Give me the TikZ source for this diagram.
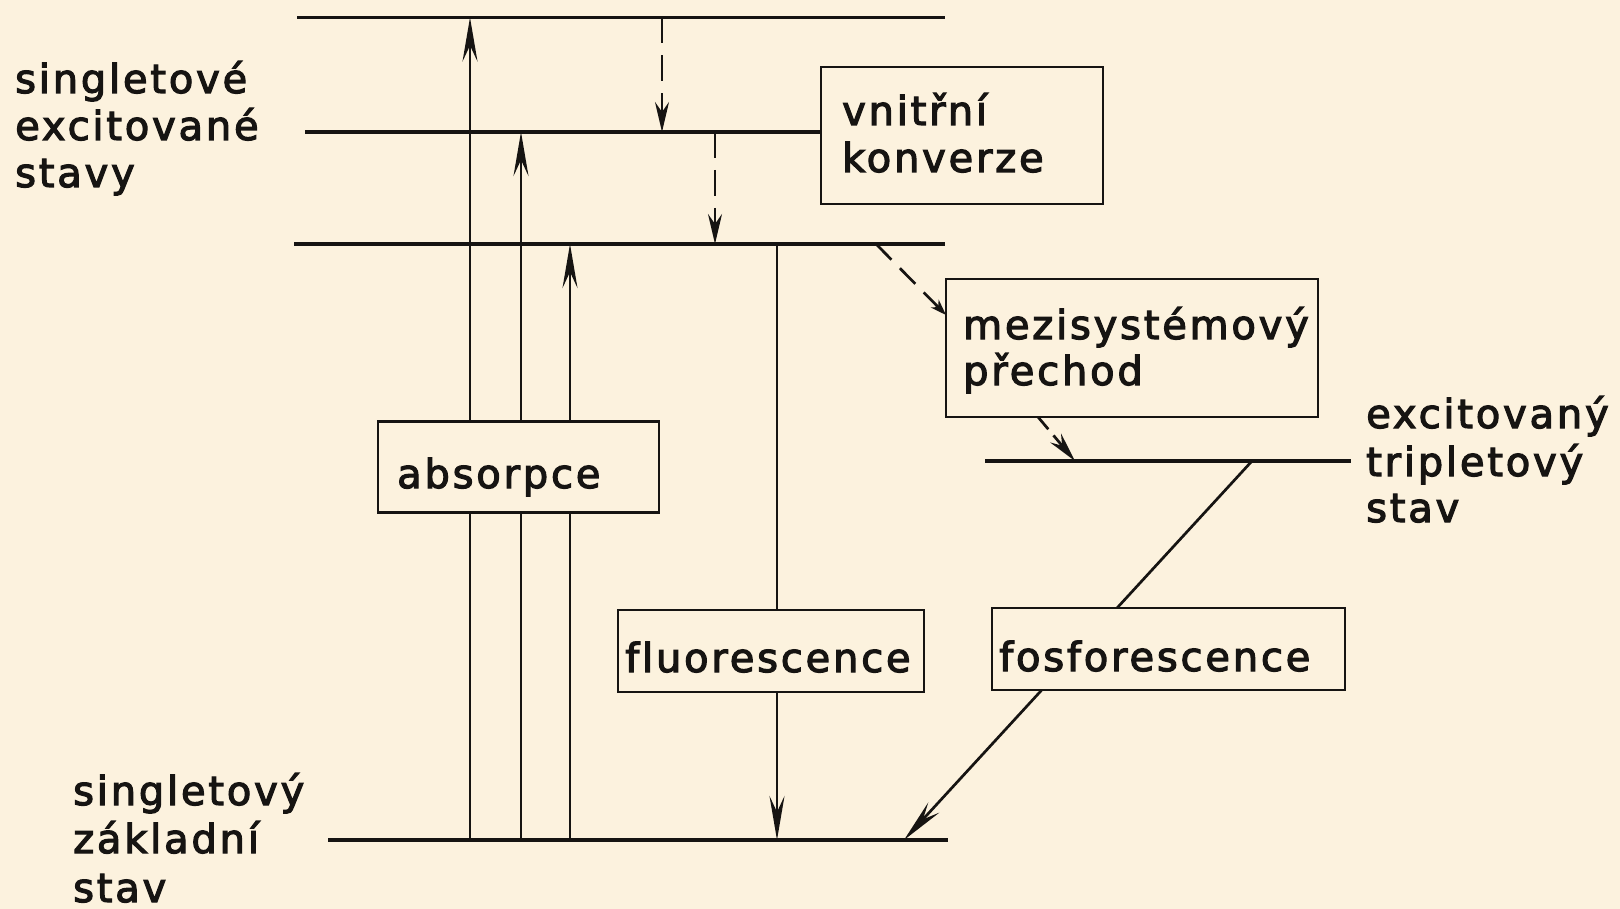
\documentclass[tikz,border=0pt]{standalone}
\usepackage{fontspec}
\setmainfont{DejaVu Sans}[LetterSpace=7,Ligatures=NoCommon,FakeBold=3]
\usetikzlibrary{arrows.meta}
\definecolor{paper}{RGB}{252,242,222}
\definecolor{ink}{RGB}{22,20,18}
\begin{document}
\begin{tikzpicture}[x=1pt,y=-1pt,
  level/.style={draw=ink,line width=3.6pt},
  conn/.style={draw=ink,line width=2.7pt},
  bigtip/.style={-{Stealth[length=44pt,width=15pt,inset=16pt]}},
  dashtip/.style={-{Stealth[length=30pt,width=14pt,inset=10pt]}},
  smalltip/.style={-{Stealth[length=16pt,width=11pt,inset=5pt]}},
  dashline/.style={dash pattern=on 26pt off 12pt},
  box/.style={draw=ink,line width=2.8pt,fill=paper,inner sep=0pt},
  txt/.style={anchor=base west,inner sep=0pt,text=ink,font=\fontsize{40}{47}\selectfont}
]
\fill[paper] (0,0) rectangle (1620,909);
\useasboundingbox (0,0) rectangle (1620,909);

% level end points
\coordinate (T0) at (297,17.5);  \coordinate (T1) at (945,17.5);
\coordinate (M0) at (305,132);
\coordinate (S0) at (294,244);   \coordinate (S1) at (945,244);
\coordinate (G0) at (328,840);   \coordinate (G1) at (948,840);
\coordinate (R0) at (985,461);   \coordinate (R1) at (1351,461);

% transition end points
\coordinate (a1g) at (470,840); \coordinate (a1t) at (470,17.5);
\coordinate (a2g) at (521,840); \coordinate (a2t) at (521,132);
\coordinate (a3g) at (570,840); \coordinate (a3t) at (570,244);
\coordinate (d1s) at (662,17.5); \coordinate (d1e) at (662,132);
\coordinate (d2s) at (715,132);  \coordinate (d2e) at (715,244);
\coordinate (fls) at (777,244);  \coordinate (fle) at (777,840);
\coordinate (is1s) at (876,244); \coordinate (is1e) at (946,315);
\coordinate (is2s) at (1038,417); \coordinate (is2e) at (1075,461);
\coordinate (phs) at (1252,461); \coordinate (phe) at (904,840);

% internal conversion box position
\path (962,135.5) node[box,draw=none,fill=none,minimum width=282pt,minimum height=137pt] (vkpos) {};

% levels
\draw[level] (T0) -- (T1);
\draw[level] (M0) -- (M0 -| vkpos.west);
\draw[level] (S0) -- (S1);
\draw[level] (G0) -- (G1);
\draw[level] (R0) -- (R1);

% absorption
\draw[conn,bigtip] (a1g) -- (a1t);
\draw[conn,bigtip] (a2g) -- (a2t);
\draw[conn,bigtip] (a3g) -- (a3t);
% internal conversion
\draw[conn,dashline,dashtip] (d1s) -- (d1e);
\draw[conn,dashline,dashtip] (d2s) -- (d2e);
% fluorescence
\draw[conn,bigtip] (fls) -- (fle);
% intersystem crossing
\draw[conn,dash pattern=on 22pt off 12pt,smalltip] (is1s) -- (is1e);
\draw[conn,dash pattern=on 16pt off 8pt,dashtip] (is2s) -- (is2e);
% phosphorescence
\draw[conn,bigtip] (phs) -- (phe);

% boxes over the lines
\node[box,minimum width=282pt,minimum height=137pt] (vkbox) at (vkpos) {};
\node[box,minimum width=372pt,minimum height=138pt] (mzbox) at (1132,348) {};
\node[box,minimum width=281pt,minimum height=91pt] (absbox) at (518.5,467) {};
\node[box,minimum width=306pt,minimum height=82pt] (flbox) at (771,651) {};
\node[box,minimum width=353pt,minimum height=82pt] (fobox) at (1168.5,649) {};

% texts
\node[txt] (l1a) at (15,93) {singletové};
\node[txt] (l1b) at (15,140) {excitované};
\node[txt] (l1c) at (15,187) {stavy};
\node[txt] (vk1) at (842,125) {vnitřní};
\node[txt] (vk2) at (842,172) {konverze};
\node[txt] (mz1) at (963,339) {mezisystémový};
\node[txt] (mz2) at (963,385) {přechod};
\node[txt] (abs) at (397,488) {absorpce};
\node[txt] (fl) at (625,672) {fluorescence};
\node[txt] (fo) at (999,671) {fosforescence};
\node[txt] (r1) at (1366,428) {excitovaný};
\node[txt] (r2) at (1366,476) {tripletový};
\node[txt] (r3) at (1366,522) {stav};
\node[txt] (g1) at (73,805) {singletový};
\node[txt] (g2) at (73,853) {základní};
\node[txt] (g3) at (73,902) {stav};
\end{tikzpicture}
\end{document}
